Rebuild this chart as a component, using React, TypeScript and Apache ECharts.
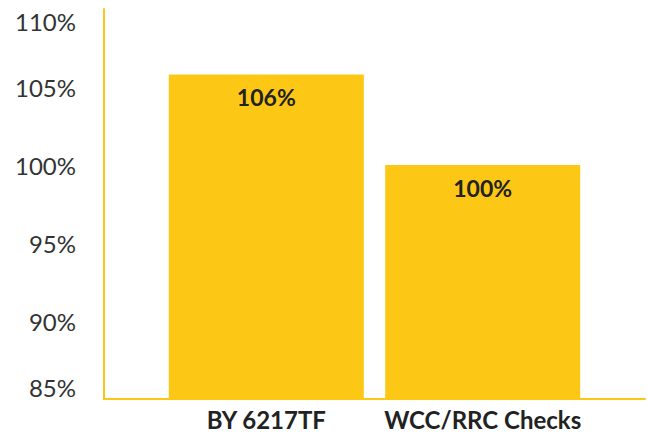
import React, { useEffect, useRef } from "react";
import * as echarts from "echarts";

const categories = ["BY 6217TF", "WCC/RRC Checks"];
const values = [105.8, 100];
const yTicks = { min: 85, max: 110, interval: 5 };

const YELLOW = "#FCC715";

export default function App() {
  const ref = useRef<HTMLDivElement>(null);
  useEffect(() => {
    if (!ref.current) return;
    const chart = echarts.init(ref.current, undefined, { renderer: "svg" });
    // place each category in the centre of alternating slots (with empty slots between/around)
    const slots: string[] = [""];
    const slotVals: (number | null)[] = [null];
    categories.forEach((c, i) => {
      slots.push(c);
      slotVals.push(values[i]);
      slots.push("");
      slotVals.push(null);
    });
    chart.setOption({
      animation: false,
      grid: { left: 104, right: 2, top: 9, bottom: 33, containLabel: false },
      xAxis: {
        type: "category",
        data: slots,
        axisLine: { show: true, lineStyle: { color: YELLOW, width: 2 } },
        axisTick: { show: false },
        axisLabel: {
          interval: 0,
          fontFamily: "Lato",
          fontWeight: "bold",
          fontSize: 24,
          color: "#222",
          margin: 8,
        },
      },
      yAxis: {
        type: "value",
        min: yTicks.min,
        max: yTicks.max,
        interval: yTicks.interval,
        axisLine: { show: true, lineStyle: { color: YELLOW, width: 2 } },
        axisTick: { show: false },
        splitLine: { show: false },
        axisLabel: {
          fontFamily: "Lato",
          fontSize: 24,
          color: "#333",
          margin: 28,
          formatter: (v: number) => `${v}%`,
          verticalAlignMaxLabel: "top",
          verticalAlignMinLabel: "bottom",
        },
      },
      series: [
        {
          type: "bar",
          data: slotVals,
          barWidth: 195,
          itemStyle: { color: YELLOW },
          label: {
            show: true,
            position: "insideTop",
            distance: 11,
            fontFamily: "Lato",
            fontWeight: "bold",
            fontSize: 23,
            color: "#222",
            formatter: (p: any) => `${Math.round(p.value)}%`,
          },
        },
      ],
    });
    return () => chart.dispose();
  }, []);
  return <div ref={ref} style={{ width: 647, height: 432, position: "absolute", left: 0, top: 0 }} />;
}
